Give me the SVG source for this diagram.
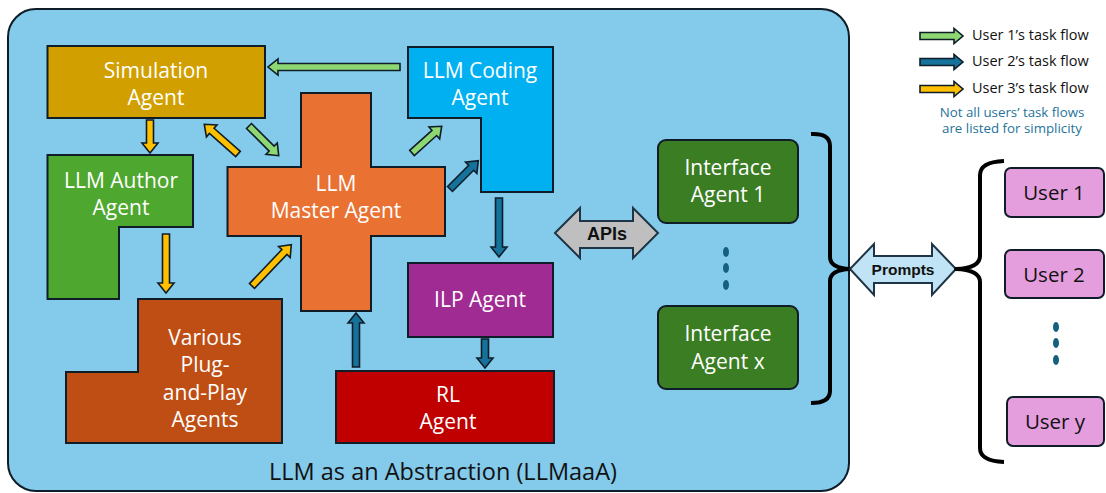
<svg xmlns="http://www.w3.org/2000/svg" width="1106" height="493" viewBox="0 0 1106 493">
<style>
.box{stroke:#0f1d29;stroke-width:2}
.lbl{font-family:"Open Sans","Noto Sans","Liberation Sans",sans-serif;font-size:21px;fill:#ffffff;text-anchor:middle}
.usr{font-family:"Open Sans","Noto Sans","Liberation Sans",sans-serif;font-size:20.5px;fill:#111111;text-anchor:middle}
.leg{font-family:"Open Sans","Noto Sans","Liberation Sans",sans-serif;font-size:14.5px;fill:#111111}
.note{font-family:"Open Sans","Noto Sans","Liberation Sans",sans-serif;font-size:13.3px;fill:#25739a;text-anchor:middle}
.bold{font-family:"Liberation Sans","Noto Sans",sans-serif;font-weight:bold;fill:#111111;text-anchor:middle}
.arr{stroke:#0f1d29;stroke-width:1.6;stroke-linejoin:miter}
.g{fill:#8ED873}.b{fill:#15729B}.y{fill:#FFC000}
.brace{fill:none;stroke:#000000;stroke-width:4;stroke-linecap:butt;stroke-linejoin:round}
.dot{fill:#15607f}
</style>

<g id="container">
<rect x="8" y="9" width="841" height="482" rx="28" ry="28" fill="#83CAEB" stroke="#0f1d29" stroke-width="2"/>
<text x="443" y="480" style="font-family:'Open Sans','Noto Sans','Liberation Sans',sans-serif;font-size:23.5px;fill:#111111;text-anchor:middle">LLM as an Abstraction (LLMaaA)</text>
</g>

<g id="simulation-agent">
<rect class="box" x="47.5" y="46" width="217.5" height="72" fill="#D1A000"/>
<text class="lbl" x="156" y="78">Simulation</text>
<text class="lbl" x="156" y="105">Agent</text>
</g>

<g id="llm-coding-agent">
<path class="box" d="M408,47 H553 V192 H481 V118 H408 Z" fill="#00B0F0"/>
<text class="lbl" x="480" y="78">LLM Coding</text>
<text class="lbl" x="480" y="105">Agent</text>
</g>

<g id="llm-master-agent">
<path class="box" d="M301,93 H371 V167 H445 V236 H371 V311 H301 V236 H227.5 V167 H301 Z" fill="#E97132"/>
<text class="lbl" x="336" y="191">LLM</text>
<text class="lbl" x="336" y="218">Master Agent</text>
</g>

<g id="llm-author-agent">
<path class="box" d="M47.5,155 H193 V227 H119 V299 H47.5 Z" fill="#4EA72E"/>
<text class="lbl" x="121" y="188">LLM Author</text>
<text class="lbl" x="121" y="215">Agent</text>
</g>

<g id="plug-and-play-agents">
<path class="box" d="M138,299 H282 V443 H66 V372 H138 Z" fill="#BF4E14"/>
<text class="lbl" x="205" y="345">Various</text>
<text class="lbl" x="205" y="372">Plug-</text>
<text class="lbl" x="205" y="400">and-Play</text>
<text class="lbl" x="205" y="427">Agents</text>
</g>

<g id="ilp-agent">
<rect class="box" x="408" y="263" width="145" height="74" fill="#A02B93"/>
<text class="lbl" x="480" y="307">ILP Agent</text>
</g>

<g id="rl-agent">
<rect class="box" x="336" y="371" width="218" height="72" fill="#C00000"/>
<text class="lbl" x="448" y="402">RL</text>
<text class="lbl" x="448" y="429">Agent</text>
</g>

<g id="interface-agent-1">
<rect class="box" x="658" y="140" width="140" height="83" rx="8" ry="8" fill="#3B7D23"/>
<text class="lbl" x="728" y="175">Interface</text>
<text class="lbl" x="728" y="202">Agent 1</text>
</g>

<g id="interface-agent-x">
<rect class="box" x="658" y="306" width="140" height="83" rx="8" ry="8" fill="#3B7D23"/>
<text class="lbl" x="728" y="341">Interface</text>
<text class="lbl" x="728" y="369">Agent x</text>
</g>

<g id="interface-dots">
<ellipse class="dot" cx="726" cy="252" rx="3" ry="5"/>
<ellipse class="dot" cx="726" cy="268" rx="3" ry="5"/>
<ellipse class="dot" cx="726" cy="285" rx="3" ry="5"/>
</g>

<g id="user-1">
<rect class="box" x="1005" y="168" width="99" height="49" rx="6" ry="6" fill="#E59EDD"/>
<text class="usr" x="1054" y="200">User 1</text>
</g>
<g id="user-2">
<rect class="box" x="1005" y="250" width="99" height="48" rx="6" ry="6" fill="#E59EDD"/>
<text class="usr" x="1054" y="282">User 2</text>
</g>
<g id="user-dots">
<ellipse class="dot" cx="1056" cy="327" rx="3" ry="5"/>
<ellipse class="dot" cx="1056" cy="343" rx="3" ry="5"/>
<ellipse class="dot" cx="1056" cy="360" rx="3" ry="5"/>
</g>
<g id="user-y">
<rect class="box" x="1007" y="397" width="97" height="49" rx="6" ry="6" fill="#E59EDD"/>
<text class="usr" x="1055" y="429">User y</text>
</g>

<g id="legend">
<path class="arr g" transform="translate(920,36)" d="M0,-3.5 H34 V-7.5 L43,0 L34,7.5 V3.5 H0 Z"/>
<path class="arr b" transform="translate(920,62)" d="M0,-3.5 H34 V-7.5 L43,0 L34,7.5 V3.5 H0 Z"/>
<path class="arr y" transform="translate(920,89)" d="M0,-3.5 H34 V-7.5 L43,0 L34,7.5 V3.5 H0 Z"/>
<text class="leg" x="972" y="40">User 1’s task flow</text>
<text class="leg" x="972" y="66">User 2’s task flow</text>
<text class="leg" x="972" y="93">User 3’s task flow</text>
<text class="note" x="1012" y="117">Not all users’ task flows</text>
<text class="note" x="1012" y="133">are listed for simplicity</text>
</g>

<g id="connectors">
<!-- green: coding -> simulation -->
<path class="arr g" transform="translate(400,67) rotate(180)" d="M0,-3.5 H122 V-8 L132,0 L122,8 V3.5 H0 Z"/>
<!-- yellow: simulation -> author -->
<path class="arr y" transform="translate(150,120) rotate(90)" d="M0,-3.5 H23 V-8 L33,0 L23,8 V3.5 H0 Z"/>
<!-- yellow: master -> simulation -->
<path class="arr y" transform="translate(238,154) rotate(-138.6)" d="M0,-3.5 H35 V-8 L45,0 L35,8 V3.5 H0 Z"/>
<!-- green: simulation -> master -->
<path class="arr g" transform="translate(249,126) rotate(45)" d="M0,-3.5 H32 V-8 L42,0 L32,8 V3.5 H0 Z"/>
<!-- green: master -> coding -->
<path class="arr g" transform="translate(412,153) rotate(-42)" d="M0,-3.5 H30 V-8 L40,0 L30,8 V3.5 H0 Z"/>
<!-- blue: master -> coding -->
<path class="arr b" transform="translate(450,189) rotate(-45)" d="M0,-3.5 H30 V-8 L40,0 L30,8 V3.5 H0 Z"/>
<!-- blue: coding -> ILP -->
<path class="arr b" transform="translate(499,198) rotate(90)" d="M0,-3.5 H49 V-8 L59,0 L49,8 V3.5 H0 Z"/>
<!-- yellow: author -> plug-and-play -->
<path class="arr y" transform="translate(166,234) rotate(90)" d="M0,-3.5 H49 V-8 L59,0 L49,8 V3.5 H0 Z"/>
<!-- yellow: plug-and-play -> master -->
<path class="arr y" transform="translate(252,286) rotate(-46.4)" d="M0,-3.5 H47 V-8 L57,0 L47,8 V3.5 H0 Z"/>
<!-- blue: RL -> master -->
<path class="arr b" transform="translate(356,367) rotate(-90)" d="M0,-3.5 H44 V-8 L54,0 L44,8 V3.5 H0 Z"/>
<!-- blue: ILP -> RL -->
<path class="arr b" transform="translate(485,339) rotate(90)" d="M0,-3.5 H19 V-8 L29,0 L19,8 V3.5 H0 Z"/>
<!-- APIs double arrow -->
<path d="M555,233 L580,208 V221 H633 V208 L658,233 L633,258 V248 H580 V258 Z" fill="#BFBFBF" stroke="#1f3545" stroke-width="2" stroke-linejoin="miter"/>
<text class="bold" x="607" y="240" style="font-size:18px">APIs</text>
<!-- interface brace -->
<path class="brace" d="M811,134 Q830,133 830,146 V257 Q830,268 850,269 Q830,270 830,281 V391 Q830,403 811,403"/>
<!-- prompts double arrow -->
<path d="M850,269 L874,244 V256 H932 V244 L956,269 L932,295 V283 H874 V295 Z" fill="#C0E4F5" stroke="#1f3545" stroke-width="2" stroke-linejoin="miter"/>
<text class="bold" x="903" y="275" style="font-size:15.5px">Prompts</text>
<!-- users brace -->
<path class="brace" d="M1004,161 Q980,162 980,175 V256 Q980,268 956,269 Q980,270 980,282 V448 Q980,461 1004,462"/>
</g>
</svg>
